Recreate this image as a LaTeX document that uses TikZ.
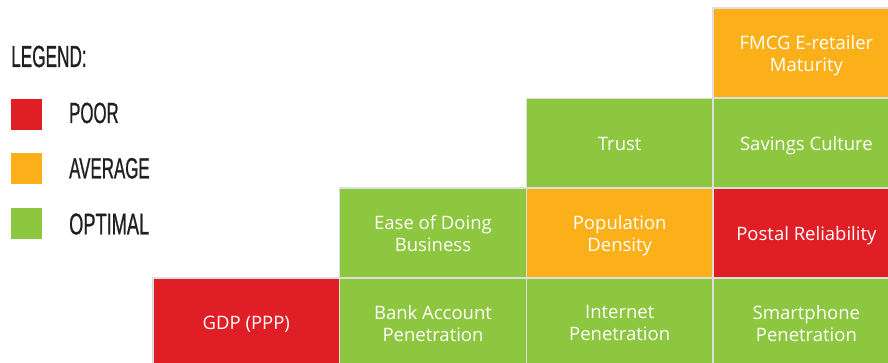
\documentclass[tikz,border=0pt]{standalone}
\usepackage{fontspec}
\usepackage{graphicx}
\setmainfont{Open Sans}
\newfontfamily\legendfont{Liberation Sans}[FakeBold=1.2]
\definecolor{poorred}{RGB}{224,30,38}
\definecolor{avgorange}{RGB}{251,176,26}
\definecolor{optgreen}{RGB}{141,198,63}
\definecolor{legendink}{RGB}{35,31,32}
\definecolor{cellline}{RGB}{222,222,222}

\begin{document}
\begin{tikzpicture}[x=1pt,y=-1pt,
	cell/.style={draw=cellline,line width=1.4pt,minimum width=186.7pt,minimum height=90pt,inner sep=0pt,
		text depth=0pt,text=white,align=center,font=\fontsize{18.5}{22}\selectfont},
	swatch/.style={minimum size=31pt,inner sep=0pt},
	legendlabel/.style={anchor=base west,inner sep=0pt,text=legendink,font=\legendfont}]
			\useasboundingbox (0,0) rectangle (888,363);
			% legend
			\node[legendlabel] (legendtitle) at (11,67) {\resizebox{75.5pt}{21.3pt}{LEGEND:}};
			\node[swatch,fill=poorred] (poorbox) at (26.5,114.5) {};
			\node[legendlabel] (poorlabel) at (69,123) {\resizebox{49.5pt}{20.3pt}{POOR}};
			\node[swatch,fill=avgorange] (avgbox) at (26.5,168.5) {};
			\node[legendlabel] (avglabel) at (69,178.3) {\resizebox{80.5pt}{20.3pt}{AVERAGE}};
			\node[swatch,fill=optgreen] (optbox) at (26.5,223.5) {};
			\node[legendlabel] (optlabel) at (69,234.3) {\resizebox{80pt}{20.8pt}{OPTIMAL}};
			% row 1
			\node[cell,fill=avgorange] (fmcg) at (806.4,53) {FMCG E-retailer\\Maturity};
			% row 2
			\node[cell,fill=optgreen] (trust) at (619.7,143.5) {Trust};
			\node[cell,fill=optgreen] (savings) at (806.4,143) {Savings Culture};
			% row 3
			\node[cell,fill=optgreen] (ease) at (433,233) {Ease of Doing\\Business};
			\node[cell,fill=avgorange] (popdensity) at (619.7,233) {Population\\Density};
			\node[cell,fill=poorred] (postal) at (806.4,233) {Postal Reliability};
			% row 4
			\node[cell,fill=poorred] (gdp) at (246.3,323) {GDP (PPP)};
			\node[cell,fill=optgreen] (bank) at (433,323) {Bank Account\\Penetration};
			\node[cell,fill=optgreen] (internet) at (619.7,323) {Internet\\Penetration};
			\node[cell,fill=optgreen] (smartphone) at (806.4,323) {Smartphone\\Penetration};
		\end{tikzpicture}
\end{document}
